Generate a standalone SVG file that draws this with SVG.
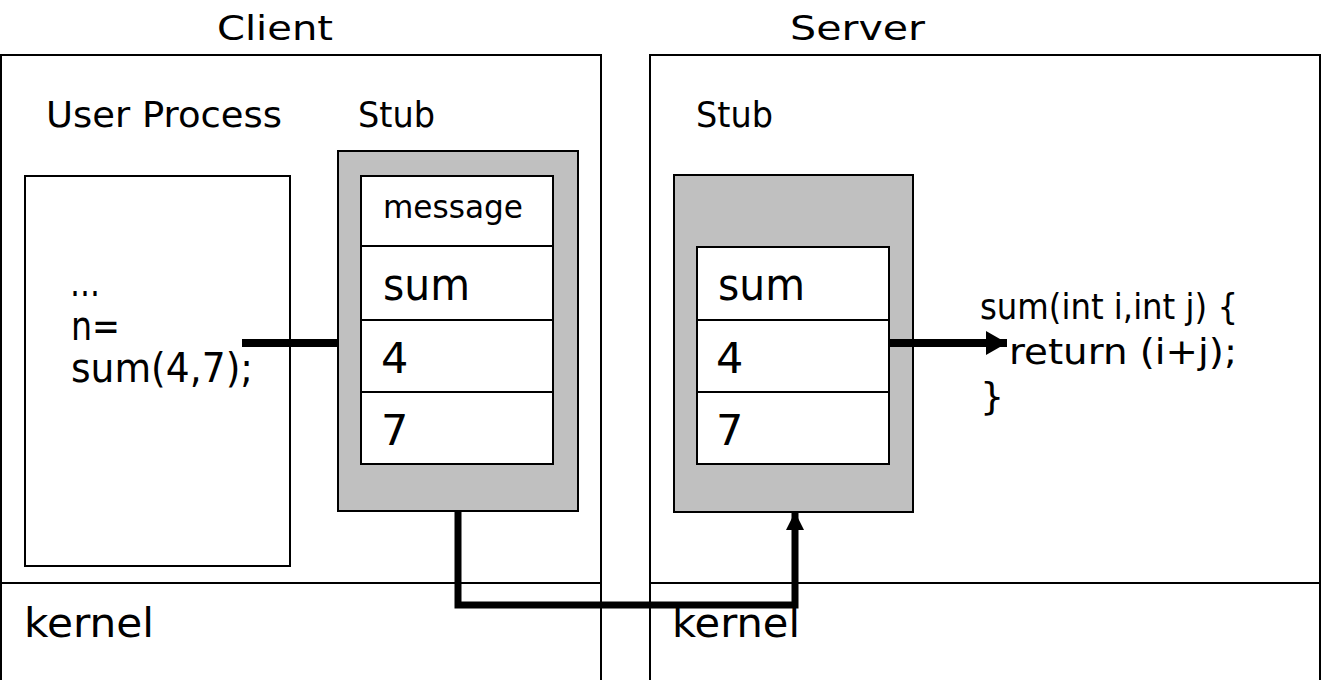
<svg xmlns="http://www.w3.org/2000/svg" width="1321" height="680" viewBox="0 0 1321 680">
<style>
.box{fill:#fff;stroke:#000;stroke-width:2}
.gray{fill:#c0c0c0;stroke:#000;stroke-width:2}
.cell{fill:#fff;stroke:#000;stroke-width:2}
.ln{stroke:#000;stroke-width:2;fill:none}
.t{font-family:"DejaVu Sans",Verdana,sans-serif;fill:#000}
.conn{stroke:#000;stroke-width:7;fill:none}
</style>
<defs>
<marker id="ah" markerUnits="userSpaceOnUse" markerWidth="22" markerHeight="24" refX="21" refY="12" orient="auto">
<path d="M0,0 L21,12 L0,24 z" fill="#000"/>
</marker>
<marker id="ah2" markerUnits="userSpaceOnUse" markerWidth="19" markerHeight="18" refX="18" refY="9" orient="auto">
<path d="M0,0 L18,9 L0,18 z" fill="#000"/>
</marker>
</defs>
<rect width="1321" height="680" fill="#fff"/>
<text class="t" x="217" y="40" font-size="34" textLength="116" lengthAdjust="spacingAndGlyphs">Client</text>
<text class="t" x="790" y="40" font-size="34" textLength="135" lengthAdjust="spacingAndGlyphs">Server</text>
<g id="client">
<rect class="box" x="1" y="55" width="600" height="630"/>
<line class="ln" x1="1" y1="583" x2="601" y2="583"/>
<text class="t" x="46" y="127" font-size="35" textLength="236" lengthAdjust="spacingAndGlyphs">User Process</text>
<text class="t" x="358" y="127" font-size="35" textLength="77" lengthAdjust="spacingAndGlyphs">Stub</text>
<text class="t" x="24" y="637" font-size="40" textLength="130" lengthAdjust="spacingAndGlyphs">kernel</text>
</g>
<g id="user-process">
<rect class="box" x="25" y="176" width="265" height="390"/>
<text class="t" x="70" y="296" font-size="40" textLength="30" lengthAdjust="spacingAndGlyphs">…</text>
<text class="t" x="71" y="340" font-size="40" textLength="49" lengthAdjust="spacingAndGlyphs">n=</text>
<text class="t" x="71" y="382" font-size="40" textLength="182" lengthAdjust="spacingAndGlyphs">sum(4,7);</text>
</g>
<g id="client-stub">
<rect class="gray" x="338" y="151" width="240" height="360"/>
<rect class="cell" x="361" y="176" width="192" height="70"/>
<rect class="cell" x="361" y="246" width="192" height="74"/>
<rect class="cell" x="361" y="320" width="192" height="72"/>
<rect class="cell" x="361" y="392" width="192" height="72"/>
<text class="t" x="383" y="218" font-size="32" textLength="140" lengthAdjust="spacingAndGlyphs">message</text>
<text class="t" x="383" y="300" font-size="44" textLength="87" lengthAdjust="spacingAndGlyphs">sum</text>
<text class="t" x="381" y="373" font-size="43">4</text>
<text class="t" x="381" y="445" font-size="43">7</text>
</g>
<g id="server">
<rect class="box" x="650" y="55" width="670" height="630"/>
<line class="ln" x1="650" y1="583" x2="1321" y2="583"/>
<text class="t" x="696" y="127" font-size="35" textLength="77" lengthAdjust="spacingAndGlyphs">Stub</text>
<text class="t" x="672" y="637" font-size="40" textLength="128" lengthAdjust="spacingAndGlyphs">kernel</text>
</g>
<g id="server-stub">
<rect class="gray" x="674" y="175" width="239" height="337"/>
<rect class="cell" x="697" y="247" width="192" height="73"/>
<rect class="cell" x="697" y="320" width="192" height="72"/>
<rect class="cell" x="697" y="392" width="192" height="72"/>
<text class="t" x="718" y="300" font-size="44" textLength="87" lengthAdjust="spacingAndGlyphs">sum</text>
<text class="t" x="716" y="373" font-size="43">4</text>
<text class="t" x="716" y="445" font-size="43">7</text>
</g>
<g id="server-proc">
<text class="t" x="980" y="319" font-size="36" textLength="258" lengthAdjust="spacingAndGlyphs">sum(int i,int j) {</text>
<text class="t" x="1009" y="364" font-size="36" textLength="228" lengthAdjust="spacingAndGlyphs">return (i+j);</text>
<text class="t" x="980" y="409" font-size="38">}</text>
</g>
<g id="connectors">
<line class="conn" x1="242" y1="343" x2="338" y2="343" style="stroke-width:8"/>
<line class="conn" x1="890" y1="343" x2="1007" y2="343" style="stroke-width:8" marker-end="url(#ah)"/>
<polyline class="conn" points="458,511 458,605 795,605 795,512" marker-end="url(#ah2)"/>
</g>
</svg>
